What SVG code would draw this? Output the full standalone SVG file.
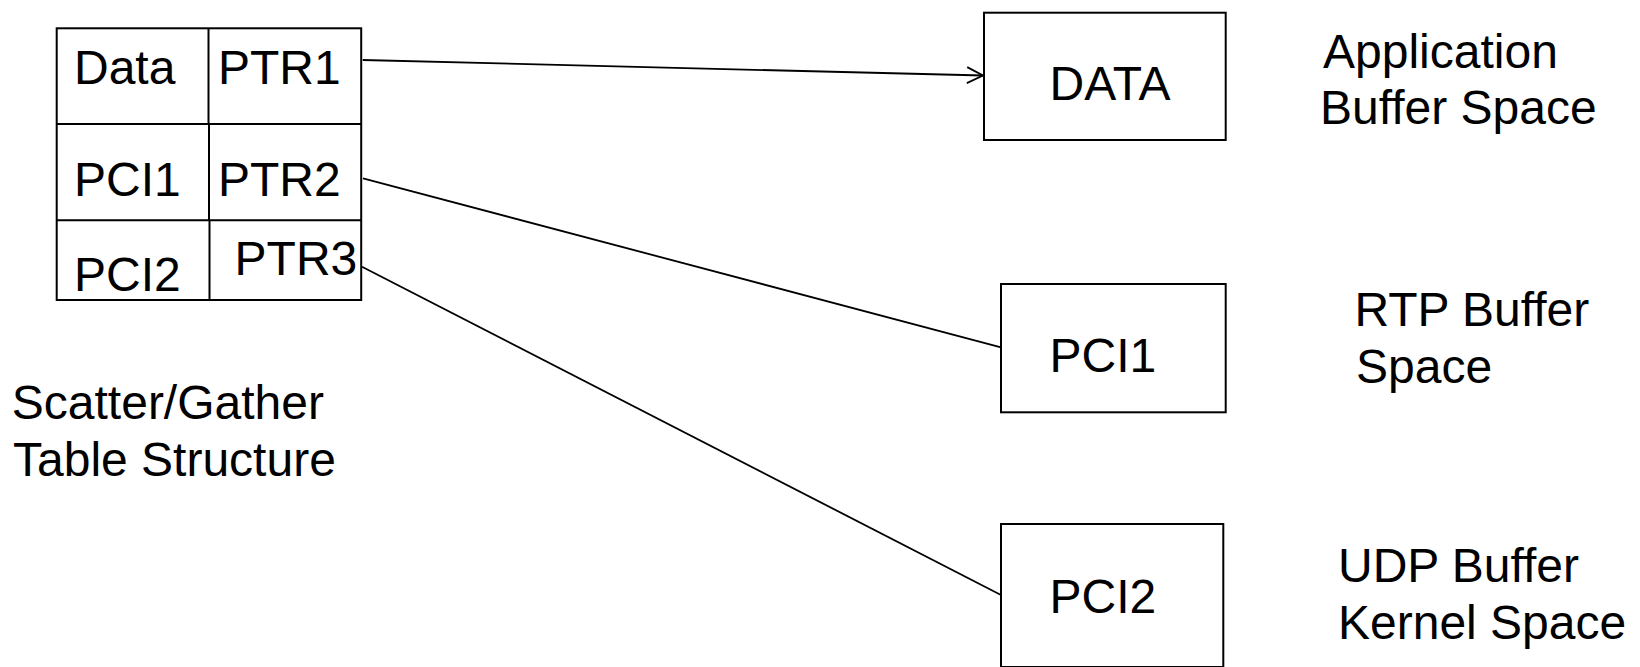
<svg xmlns="http://www.w3.org/2000/svg" width="1640" height="667" viewBox="0 0 1640 667">
<defs>
<style>
text{font-family:"Liberation Sans",Arial,sans-serif;fill:#000;font-size:48px;}
.box{fill:#fff;stroke:#000;stroke-width:2;}
.grid{stroke:#000;stroke-width:2;fill:none;}
.conn{stroke:#000;stroke-width:1.8;fill:none;}
</style>
<marker id="open" viewBox="0 0 20 20" refX="18" refY="10" markerWidth="20" markerHeight="20" markerUnits="userSpaceOnUse" orient="auto">
<path d="M2,2 L18,10 L2,18" fill="none" stroke="#000" stroke-width="1.8"/>
</marker>
</defs>
<rect width="1640" height="667" fill="#fff"/>
<g id="table">
<rect class="grid" x="56.7" y="28.3" width="304.5" height="271.7"/>
<line class="grid" x1="208.5" y1="28.3" x2="208.5" y2="124"/>
<line class="grid" x1="209" y1="124" x2="209" y2="220.3"/>
<line class="grid" x1="209.5" y1="220.3" x2="209.5" y2="300"/>
<line class="grid" x1="56.7" y1="124" x2="361.2" y2="124"/>
<line class="grid" x1="56.7" y1="220.3" x2="361.2" y2="220.3"/>
<text x="74" y="84">Data</text>
<text x="218" y="84">PTR1</text>
<text x="74" y="196">PCI1</text>
<text x="218" y="196">PTR2</text>
<text x="74" y="291">PCI2</text>
<text x="234.6" y="275">PTR3</text>
</g>
<g id="table-label">
<text x="11.8" y="419">Scatter/Gather</text>
<text x="13" y="476">Table Structure</text>
</g>
<g id="data-box">
<rect class="box" x="984" y="12.7" width="241.7" height="127.3"/>
<text x="1049.6" y="100">DATA</text>
</g>
<g id="pci1-box">
<rect class="box" x="1001" y="284" width="224.7" height="128.3"/>
<text x="1049.6" y="372">PCI1</text>
</g>
<g id="pci2-box">
<rect class="box" x="1001" y="524" width="222.3" height="143"/>
<text x="1049.6" y="613">PCI2</text>
</g>
<g id="app-label">
<text x="1323" y="68">Application</text>
<text x="1320" y="124">Buffer Space</text>
</g>
<g id="rtp-label">
<text x="1354.5" y="326">RTP Buffer</text>
<text x="1356" y="383">Space</text>
</g>
<g id="udp-label">
<text x="1338" y="582">UDP Buffer</text>
<text x="1338" y="639">Kernel Space</text>
</g>
<g id="connectors">
<line class="conn" x1="362.7" y1="60" x2="983" y2="75.5" marker-end="url(#open)"/>
<line class="conn" x1="363" y1="178.3" x2="1001" y2="347.3"/>
<line class="conn" x1="362" y1="266.7" x2="1001" y2="595"/>
</g>
</svg>
